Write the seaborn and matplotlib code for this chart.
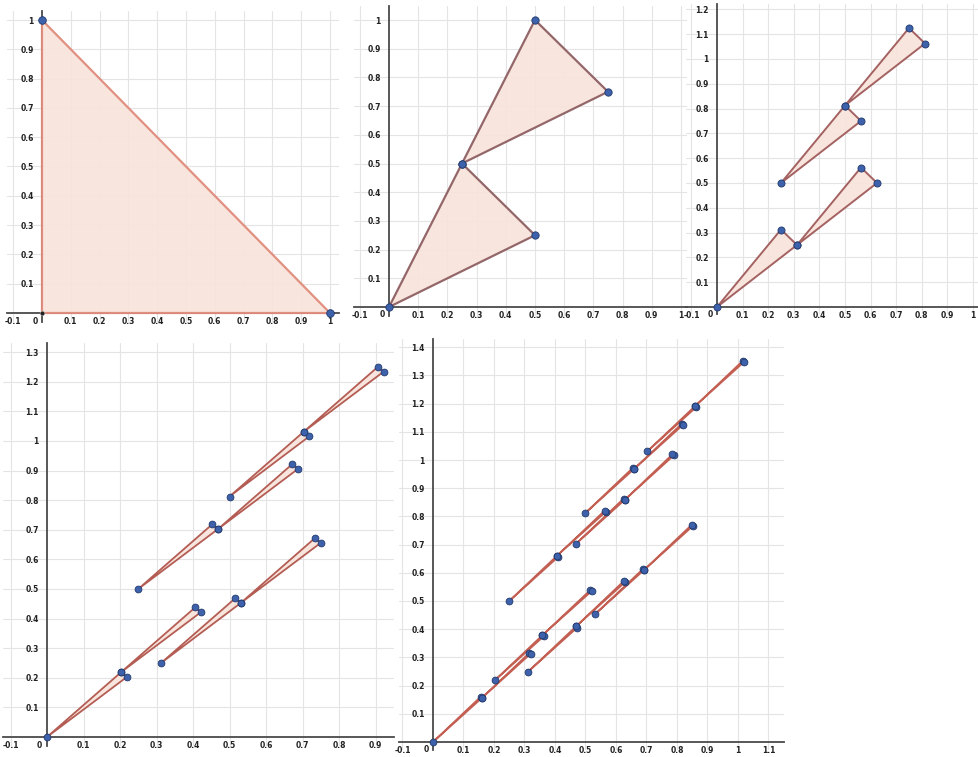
import matplotlib
matplotlib.use("Agg")
import matplotlib.pyplot as plt
import seaborn as sns
import pandas as pd

# ---------------- data: triangle vertices for each stage ----------------
level1 = [[(0.0, 0.0), (1.0, 0.0), (0.0, 1.0)]]

level2 = [[(0.0, 0.0), (0.5, 0.25), (0.25, 0.5)],
          [(0.25, 0.5), (0.75, 0.75), (0.5, 1.0)]]

level3 = [[(0.0, 0.0), (0.3125, 0.25), (0.25, 0.3125)],
          [(0.3125, 0.25), (0.5625, 0.5625), (0.625, 0.5)],
          [(0.25, 0.5), (0.5, 0.8125), (0.5625, 0.75)],
          [(0.5, 0.8125), (0.75, 1.125), (0.8125, 1.0625)]]

level4 = [[(0.0, 0.0), (0.203, 0.219), (0.219, 0.203)],
          [(0.203, 0.219), (0.422, 0.422), (0.406, 0.438)],
          [(0.3125, 0.25), (0.531, 0.453), (0.516, 0.469)],
          [(0.531, 0.453), (0.75, 0.656), (0.734, 0.672)],
          [(0.25, 0.5), (0.469, 0.703), (0.453, 0.719)],
          [(0.469, 0.703), (0.672, 0.922), (0.688, 0.906)],
          [(0.5, 0.8125), (0.703, 1.031), (0.719, 1.016)],
          [(0.703, 1.031), (0.906, 1.25), (0.922, 1.234)]]

level5 = [[(0.0, 0.0), (0.160, 0.156), (0.156, 0.160)],
          [(0.160, 0.156), (0.316, 0.316), (0.320, 0.313)],
          [(0.203, 0.219), (0.359, 0.379), (0.363, 0.375)],
          [(0.359, 0.379), (0.516, 0.539), (0.520, 0.535)],
          [(0.3125, 0.25), (0.469, 0.410), (0.473, 0.406)],
          [(0.469, 0.410), (0.629, 0.566), (0.625, 0.570)],
          [(0.531, 0.453), (0.691, 0.609), (0.688, 0.613)],
          [(0.691, 0.609), (0.852, 0.766), (0.848, 0.770)],
          [(0.25, 0.5), (0.406, 0.660), (0.410, 0.656)],
          [(0.406, 0.660), (0.566, 0.816), (0.5625, 0.820)],
          [(0.469, 0.703), (0.629, 0.859), (0.625, 0.863)],
          [(0.629, 0.859), (0.789, 1.016), (0.785, 1.020)],
          [(0.5, 0.8125), (0.660, 0.969), (0.656, 0.973)],
          [(0.660, 0.969), (0.816, 1.129), (0.820, 1.125)],
          [(0.703, 1.031), (0.859, 1.191), (0.863, 1.1875)],
          [(0.859, 1.191), (1.016, 1.352), (1.020, 1.348)]]

# tick label values for each panel
p1_xticks = [-0.1, 0.1, 0.2, 0.3, 0.4, 0.5, 0.6, 0.7, 0.8, 0.9, 1.0]
p1_yticks = [0.1, 0.2, 0.3, 0.4, 0.5, 0.6, 0.7, 0.8, 0.9, 1.0]
p2_xticks = [-0.1, 0.1, 0.2, 0.3, 0.4, 0.5, 0.6, 0.7, 0.8, 0.9, 1.0]
p2_yticks = [0.1, 0.2, 0.3, 0.4, 0.5, 0.6, 0.7, 0.8, 0.9, 1.0]
p3_xticks = [-0.1, 0.1, 0.2, 0.3, 0.4, 0.5, 0.6, 0.7, 0.8, 0.9, 1.0]
p3_yticks = [0.1, 0.2, 0.3, 0.4, 0.5, 0.6, 0.7, 0.8, 0.9, 1.0, 1.1, 1.2]
p4_xticks = [-0.1, 0.1, 0.2, 0.3, 0.4, 0.5, 0.6, 0.7, 0.8, 0.9]
p4_yticks = [0.1, 0.2, 0.3, 0.4, 0.5, 0.6, 0.7, 0.8, 0.9, 1.0, 1.1, 1.2, 1.3]
p5_xticks = [-0.1, 0.1, 0.2, 0.3, 0.4, 0.5, 0.6, 0.7, 0.8, 0.9, 1.0, 1.1]
p5_yticks = [0.1, 0.2, 0.3, 0.4, 0.5, 0.6, 0.7, 0.8, 0.9, 1.0, 1.1, 1.2, 1.3, 1.4]

# ---------------- styling ----------------
sns.set_theme(style="white")
plt.rcParams["font.family"] = ["DejaVu Sans"]

W, H = 979, 757
fig = plt.figure(figsize=(W / 100, H / 100), dpi=100)
fig.patch.set_facecolor("white")

FILL = "#f8e4dc"
PT = "#3d62ab"
PT_EDGE = "#22396b"
LAB = 5.5


def fmt(v):
    s = f"{v:.1f}"
    if s.endswith(".0"):
        s = s[:-2]
    return s


def make_ax(origin, scale, xlim, ylim):
    ox, oy = origin
    sx, sy = scale
    left = ox + xlim[0] * sx
    right = ox + xlim[1] * sx
    top = oy - ylim[1] * sy
    bottom = oy - ylim[0] * sy
    ax = fig.add_axes([left / W, 1 - bottom / H, (right - left) / W, (bottom - top) / H])
    ax.set_xlim(xlim)
    ax.set_ylim(ylim)
    ax.set_facecolor("none")
    return ax


def style_ax(ax, xticks, yticks):
    for s in ["top", "right"]:
        ax.spines[s].set_visible(False)
    ax.spines["left"].set_position(("data", 0))
    ax.spines["bottom"].set_position(("data", 0))
    for s in ["left", "bottom"]:
        ax.spines[s].set_color("#4a4a4a")
        ax.spines[s].set_linewidth(1.3)
        ax.spines[s].set_zorder(1)
    ax.set_xticks(xticks)
    ax.set_xticklabels([fmt(v) for v in xticks])
    ax.set_yticks(yticks)
    ax.set_yticklabels([fmt(v) for v in yticks])
    ax.tick_params(axis="x", length=0, labelsize=LAB, colors="#222222", pad=3)
    ax.tick_params(axis="y", length=0, labelsize=LAB, colors="#222222", pad=6)
    for lab in ax.get_xticklabels() + ax.get_yticklabels():
        lab.set_fontweight("bold")
    ax.grid(True, color="#e4e4e4", linewidth=0.8, zorder=0)
    ax.set_axisbelow(True)
    ax.text(-0.015, -0.012, "0", transform=ax.transData, ha="right", va="top",
            fontsize=LAB, fontweight="bold", color="#222222")


def draw(ax, tris, edge, lw, ms):
    rows = []
    for i, tri in enumerate(tris):
        xs = [p[0] for p in tri]
        ys = [p[1] for p in tri]
        ax.fill(xs, ys, facecolor=FILL, edgecolor=edge, linewidth=lw, alpha=0.95, zorder=2)
        for x, y in tri:
            rows.append({"x": x, "y": y, "tri": i})
    if ms > 0:
        df = pd.DataFrame(rows)
        sns.scatterplot(data=df, x="x", y="y", ax=ax, color=PT, edgecolor=PT_EDGE,
                        linewidth=0.6, s=ms, zorder=4, legend=False)
    ax.set_xlabel("")
    ax.set_ylabel("")


# panel 1
ax1 = make_ax((42, 313), (288, 293), (-0.12, 1.03), (-0.03, 1.03))
style_ax(ax1, p1_xticks, p1_yticks)
draw(ax1, level1, "#e08b7b", 1.6, 0)
df1 = pd.DataFrame({"x": [0.0, 1.0], "y": [1.0, 0.0]})
sns.scatterplot(data=df1, x="x", y="y", ax=ax1, color=PT, edgecolor=PT_EDGE,
                linewidth=0.6, s=30, zorder=4, legend=False)
sns.scatterplot(data=pd.DataFrame({"x": [0.0], "y": [0.0]}), x="x", y="y", ax=ax1,
                color="#222222", s=12, zorder=4, legend=False)
ax1.set_xlabel("")
ax1.set_ylabel("")

# panel 2
ax2 = make_ax((389, 307), (292, 287), (-0.12, 1.02), (-0.03, 1.05))
style_ax(ax2, p2_xticks, p2_yticks)
draw(ax2, level2, "#8e5f62", 1.6, 28)

# panel 3
ax3 = make_ax((717, 307), (256, 248), (-0.12, 1.02), (-0.03, 1.22))
style_ax(ax3, p3_xticks, p3_yticks)
draw(ax3, level3, "#a05a5a", 1.4, 26)

# panel 4
ax4 = make_ax((47, 737), (365, 296), (-0.12, 0.95), (-0.03, 1.33))
style_ax(ax4, p4_xticks, p4_yticks)
draw(ax4, level4, "#b0554c", 1.3, 24)

# panel 5
ax5 = make_ax((433, 742), (305, 282), (-0.11, 1.15), (-0.03, 1.43))
style_ax(ax5, p5_xticks, p5_yticks)
draw(ax5, level5, "#c0574a", 1.3, 24)

fig.savefig("out.png", dpi=100, facecolor="white")
